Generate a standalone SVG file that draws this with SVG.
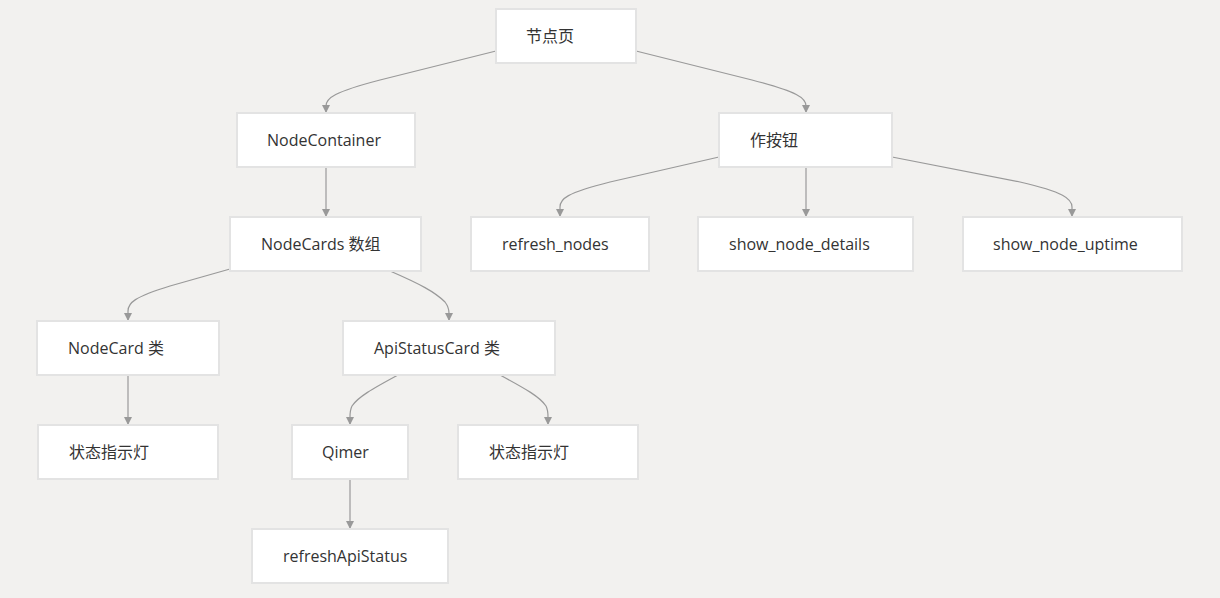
<svg xmlns="http://www.w3.org/2000/svg" width="1220" height="598" viewBox="0 0 1220 598">
<defs>
<style>
.n rect{fill:#fff;stroke:#e3e3e3;stroke-width:2}
.n text{font-family:"Open Sans","Noto Sans","Noto Sans CJK SC",sans-serif;font-size:16px;fill:#333}
.e path{fill:none;stroke:#999;stroke-width:1.2}
</style>
<marker id="ah" viewBox="0 0 10 10" refX="10" refY="5" markerWidth="8" markerHeight="8" markerUnits="userSpaceOnUse" orient="auto">
<path d="M0,0 L10,5 L0,10 z" fill="#999"/>
</marker>
</defs>
<rect width="1220" height="598" fill="#f2f1ef"/>
<g class="e">
<path d="M496,51 L380,80 C334,92 326,98 326,106 L326,113" marker-end="url(#ah)"/>
<path d="M636,51 L752,80 C798,92 806,98 806,106 L806,113" marker-end="url(#ah)"/>
<path d="M326,167 L326,217" marker-end="url(#ah)"/>
<path d="M719,157 L610,182 C566,193 560,199 560,207 L560,217" marker-end="url(#ah)"/>
<path d="M806,167 L806,217" marker-end="url(#ah)"/>
<path d="M892,157 L1020,182 C1064,192 1072,199 1072,207 L1072,217" marker-end="url(#ah)"/>
<path d="M230,269 L170,286 C134,297 128,303 128,311 L128,321" marker-end="url(#ah)"/>
<path d="M390,271 C420,284 435,292 445,302 C448,306 449,309 449,313 L449,321" marker-end="url(#ah)"/>
<path d="M128,375 L128,425" marker-end="url(#ah)"/>
<path d="M398,375 C372,389 358,397 352,406 C350,410 350,413 350,417 L350,425" marker-end="url(#ah)"/>
<path d="M500,375 C526,389 540,397 546,406 C548,410 548,413 548,417 L548,425" marker-end="url(#ah)"/>
<path d="M350,479 L350,529" marker-end="url(#ah)"/>
</g>
<g id="n-page" class="n"><rect x="496" y="9" width="140" height="54"/><text x="526" y="42">节点页</text></g>
<g id="n-container" class="n"><rect x="237" y="113" width="178" height="54"/><text x="267" y="146">NodeContainer</text></g>
<g id="n-buttons" class="n"><rect x="719" y="113" width="173" height="54"/><text x="750" y="146">作按钮</text></g>
<g id="n-cards" class="n"><rect x="230" y="217" width="191" height="54"/><text x="261" y="250">NodeCards 数组</text></g>
<g id="n-refresh" class="n"><rect x="471" y="217" width="178" height="54"/><text x="502" y="250">refresh_nodes</text></g>
<g id="n-details" class="n"><rect x="698" y="217" width="215" height="54"/><text x="729" y="250">show_node_details</text></g>
<g id="n-uptime" class="n"><rect x="963" y="217" width="219" height="54"/><text x="993" y="250">show_node_uptime</text></g>
<g id="n-nodecard" class="n"><rect x="37" y="321" width="182" height="54"/><text x="68" y="354">NodeCard 类</text></g>
<g id="n-apicard" class="n"><rect x="343" y="321" width="212" height="54"/><text x="374" y="354">ApiStatusCard 类</text></g>
<g id="n-led1" class="n"><rect x="38" y="425" width="180" height="54"/><text x="69" y="458">状态指示灯</text></g>
<g id="n-qimer" class="n"><rect x="292" y="425" width="116" height="54"/><text x="322" y="458">Qimer</text></g>
<g id="n-led2" class="n"><rect x="458" y="425" width="180" height="54"/><text x="489" y="458">状态指示灯</text></g>
<g id="n-refreshapi" class="n"><rect x="252" y="529" width="196" height="54"/><text x="283" y="562">refreshApiStatus</text></g>
</svg>
